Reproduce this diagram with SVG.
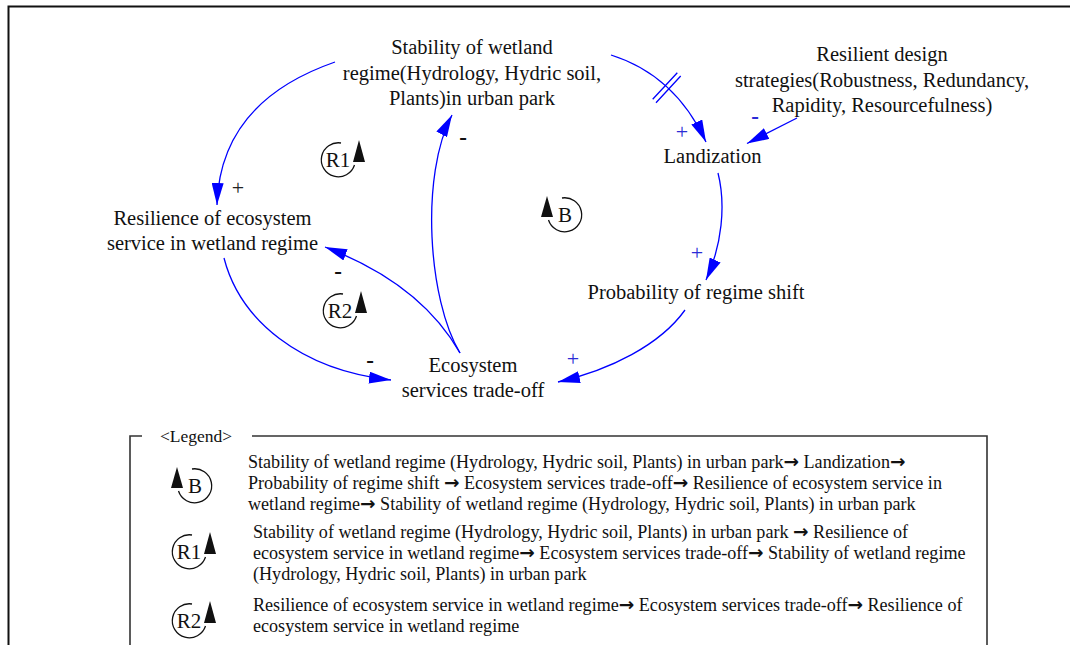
<svg xmlns="http://www.w3.org/2000/svg" width="1070" height="645" viewBox="0 0 1070 645">
  <style>
    .lbl { font-family: "Liberation Serif", "Times New Roman", serif; font-size: 20.5px; fill: #111; text-anchor: middle; }
    .leg { font-family: "Liberation Serif", "Times New Roman", serif; font-size: 18.1px; fill: #111; }
    .ar { font-family: "DejaVu Sans", sans-serif; font-weight: bold; font-size: 18.5px; }
    .link { fill: none; stroke: #0000ff; stroke-width: 1.3; marker-end: url(#head); }
    .bar { fill: none; stroke: #0000ff; stroke-width: 1.3; }
    .pol { font-family: "Liberation Serif", "Times New Roman", serif; font-size: 22px; text-anchor: middle; }
    .pos { fill: #2b2bd6; }
    .posk { fill: #222; }
    .neg { fill: #111; font-weight: bold; font-size: 23px; }
    .negb { fill: #2b2bd6; font-weight: bold; font-size: 23px; }
    .loopArc { fill: none; stroke: #111; stroke-width: 1.3; }
    .loopHead { fill: #111; }
    .loopTxt { font-family: "Liberation Serif", "Times New Roman", serif; font-size: 21px; fill: #111; text-anchor: middle; }
    .frame { fill: none; stroke: #111; stroke-width: 2; }
    .legframe { fill: none; stroke: #333; stroke-width: 1.6; }
  </style>
  <defs>
    <marker id="head" viewBox="0 0 22 12" refX="22" refY="6" markerWidth="22" markerHeight="12" markerUnits="userSpaceOnUse" orient="auto">
      <path d="M0,0 L22,6 L0,12 Z" fill="#0000ff"/>
    </marker>
    <!-- reinforcing loop glyph: gap upper right, arrow rising on the right -->
    <g id="loopR">
      <path class="loopArc" d="M3,-17 A17,17 0 1 0 16.5,5"/>
      <path class="loopHead" d="M21,-20 L27,2 L15,2 Z"/>
    </g>
    <!-- balancing loop glyph: gap upper left, arrow rising on the left -->
    <g id="loopB">
      <path class="loopArc" d="M-3,-17 A17,17 0 1 1 -16.5,5"/>
      <path class="loopHead" d="M-18,-19 L-12,2 L-24,2 Z"/>
    </g>
  </defs>

  <rect class="frame" x="8.5" y="6.5" width="1100" height="700"/>

  <!-- nodes -->
  <g id="node-stability">
    <text class="lbl" x="472" y="54">Stability of wetland</text>
    <text class="lbl" x="472" y="80">regime(Hydrology, Hydric soil,</text>
    <text class="lbl" x="472" y="105">Plants)in urban park</text>
  </g>
  <g id="node-strategies">
    <text class="lbl" x="882" y="61">Resilient design</text>
    <text class="lbl" x="882" y="86.5">strategies(Robustness, Redundancy,</text>
    <text class="lbl" x="882" y="112">Rapidity, Resourcefulness)</text>
  </g>
  <g id="node-landization">
    <text class="lbl" x="712.5" y="163">Landization</text>
  </g>
  <g id="node-probability">
    <text class="lbl" x="696" y="299">Probability of regime shift</text>
  </g>
  <g id="node-resilience">
    <text class="lbl" x="212.5" y="225">Resilience of ecosystem</text>
    <text class="lbl" x="212.5" y="250">service in wetland regime</text>
  </g>
  <g id="node-tradeoff">
    <text class="lbl" x="473" y="371.5">Ecosystem</text>
    <text class="lbl" x="473" y="396.5">services trade-off</text>
  </g>

  <!-- causal links -->
  <g id="links">
    <path class="link" d="M335,62 Q220,102 217,205"/>
    <path class="link" d="M460,353 C428,300 420,175 452,115"/>
    <path class="link" d="M460,353 C430,300 380,268 325,247"/>
    <path class="link" d="M224,258 C240,320 300,370 391,380"/>
    <path class="link" d="M611,55 Q675,75 706,142"/>
    <path class="bar" d="M652.7,99.3 L677.3,72.7 M656,102.7 L680.7,76"/>
    <path class="link" d="M797,118 L747,143.5"/>
    <path class="link" d="M718,173 C726,205 722,245 706,280"/>
    <path class="link" d="M685,310 C660,345 610,370 558,382"/>
  </g>

  <!-- link polarities -->
  <g id="polarities">
    <text class="pol posk" x="238" y="195">+</text>
    <text class="pol neg" x="463" y="145">-</text>
    <text class="pol pos" x="682" y="139">+</text>
    <text class="pol negb" x="755" y="124">-</text>
    <text class="pol pos" x="697" y="260">+</text>
    <text class="pol neg" x="338" y="279">-</text>
    <text class="pol neg" x="370" y="368">-</text>
    <text class="pol pos" x="573" y="366">+</text>
  </g>

  <!-- loop markers -->
  <g id="loop-R1" transform="translate(338,160)">
    <use href="#loopR"/>
    <text class="loopTxt" x="0" y="7">R1</text>
  </g>
  <g id="loop-R2" transform="translate(340,311)">
    <use href="#loopR"/>
    <text class="loopTxt" x="0" y="7">R2</text>
  </g>
  <g id="loop-B" transform="translate(565,215)">
    <use href="#loopB"/>
    <text class="loopTxt" x="0" y="7">B</text>
  </g>

  <!-- legend -->
  <g id="legend">
    <path class="legframe" d="M142,436 L130,436 L130,660 M252,436 L987,436 L987,660"/>
    <text class="leg" x="160" y="442" style="font-size:17.5px">&lt;Legend&gt;</text>

    <g transform="translate(195,486)">
      <use href="#loopB"/>
      <text class="loopTxt" x="0" y="7">B</text>
    </g>
    <text class="leg" x="248" y="468">Stability of wetland regime (Hydrology, Hydric soil, Plants) in urban park<tspan class="ar">→</tspan> Landization<tspan class="ar">→</tspan></text>
    <text class="leg" x="248" y="489">Probability of regime shift <tspan class="ar">→</tspan> Ecosystem services trade-off<tspan class="ar">→</tspan> Resilience of ecosystem service in</text>
    <text class="leg" x="248" y="510">wetland regime<tspan class="ar">→</tspan> Stability of wetland regime (Hydrology, Hydric soil, Plants) in urban park</text>

    <g transform="translate(189,552)">
      <use href="#loopR"/>
      <text class="loopTxt" x="0" y="7">R1</text>
    </g>
    <text class="leg" x="253" y="538">Stability of wetland regime (Hydrology, Hydric soil, Plants) in urban park <tspan class="ar">→</tspan> Resilience of</text>
    <text class="leg" x="253" y="559">ecosystem service in wetland regime<tspan class="ar">→</tspan> Ecosystem services trade-off<tspan class="ar">→</tspan> Stability of wetland regime</text>
    <text class="leg" x="253" y="580">(Hydrology, Hydric soil, Plants) in urban park</text>

    <g transform="translate(189,621)">
      <use href="#loopR"/>
      <text class="loopTxt" x="0" y="7">R2</text>
    </g>
    <text class="leg" x="253" y="611">Resilience of ecosystem service in wetland regime<tspan class="ar">→</tspan> Ecosystem services trade-off<tspan class="ar">→</tspan> Resilience of</text>
    <text class="leg" x="253" y="632">ecosystem service in wetland regime</text>
  </g>
</svg>
